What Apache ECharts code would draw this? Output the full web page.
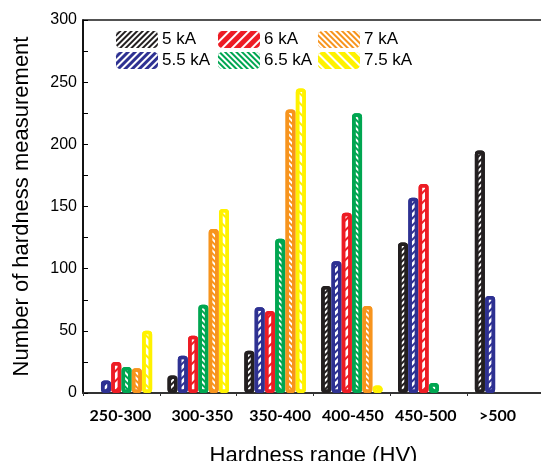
<!DOCTYPE html>
<html>
<head>
<meta charset="utf-8">
<script src="https://cdn.jsdelivr.net/npm/echarts@6/dist/echarts.min.js"></script>
<style>
  html, body { margin: 0; padding: 0; background: #fff; }
  #chart { width: 541px; height: 461px; }
</style>
</head>
<body>
<div id="chart"></div>
<script>
// Hardness ranges (HV) on the category axis
const categories = ['250-300', '300-350', '350-400', '400-450', '450-500', '>500'];

// Number of hardness measurements per welding current
const seriesNames = ['5 kA', '5.5 kA', '6 kA', '6.5 kA', '7 kA', '7.5 kA'];
const count5kA   = [0, 14, 34, 86, 121, 195];
const count5_5kA = [10, 30, 69, 106, 157, 78];
const count6kA   = [25, 46, 66, 145, 168, 0];
const count6_5kA = [21, 71, 124, 225, 8, 0];
const count7kA   = [20, 132, 228, 70, 0, 0];
const count7_5kA = [50, 148, 245, 6, 0, 0];

const yTicks = [0, 50, 100, 150, 200, 250, 300];

const seriesValues = [count5kA, count5_5kA, count6kA, count6_5kA, count7kA, count7_5kA];
const colors = ['#231f20', '#2e3192', '#ed1c24', '#00a651', '#f7941d', '#fff200'];

// hatch settings: [stripe thickness, gap, direction (-1 = "/", 1 = "\")]
const hatch = [
  [2, 2, -1],
  [2, 3, -1],
  [2, 5, -1],
  [2, 2, 1],
  [2, 2, 1],
  [2, 5, 1]
];

// small horizontal nudges of the category labels (px, + = right)
const labelShift = [-1, 4, 5, 1, -3, -8];

function decalFor(i, stripeColor) {
  return {
    symbol: 'rect',
    symbolSize: 1,
    color: stripeColor,
    dashArrayX: [1, 0],
    dashArrayY: [hatch[i][0], hatch[i][1]],
    rotation: hatch[i][2] * Math.PI / 4
  };
}

const series = seriesNames.map((name, i) => ({
  name: name,
  type: 'bar',
  barGap: '3%',
  barCategoryGap: '20%',
  data: seriesValues[i].map(v => (v === 0 ? '-' : v)),
  itemStyle: {
    color: '#ffffff',
    borderColor: colors[i],
    borderWidth: 3.5,
    borderRadius: 2,
    decal: decalFor(i, colors[i])
  },
  emphasis: { disabled: true }
}));

// legend columns of two entries each
const legendCols = [[0, 1], [2, 3], [4, 5]];
const legendLeft = [116, 218, 318];
const legends = legendCols.map((col, k) => ({
  orient: 'vertical',
  left: legendLeft[k],
  top: 31,
  padding: 0,
  itemWidth: 42,
  itemHeight: 17,
  itemGap: 4,
  icon: 'roundRect',
  selectedMode: false,
  textStyle: { fontFamily: 'Liberation Sans, Arial', fontSize: 17, color: '#000', padding: [0, 0, 0, -1] },
  data: col.map(i => ({
    name: seriesNames[i],
    itemStyle: {
      color: colors[i],
      borderWidth: 0,
      decal: decalFor(i, '#ffffff')
    }
  }))
}));

const labelRich = {};
labelShift.forEach((d, i) => {
  labelRich['c' + i] = {
    fontFamily: 'Lato', fontWeight: 'bold', fontSize: 16, color: '#000',
    padding: [0, d < 0 ? -2 * d : 0, 0, d > 0 ? 2 * d : 0]
  };
});

const chart = echarts.init(document.getElementById('chart'), null, { renderer: 'canvas' });
chart.setOption({
  animation: false,
  backgroundColor: '#fff',
  color: colors,
  grid: {
    left: 83, right: -3, top: 20, bottom: 68,
    show: true, borderColor: '#1a1a1a', borderWidth: 1.5,
    containLabel: false,
    outerBoundsMode: 'none'
  },
  legend: legends,
  xAxis: {
    type: 'category',
    data: categories,
    name: 'Hardness range (HV)',
    nameLocation: 'middle',
    nameGap: 52,
    nameTextStyle: { fontFamily: 'Liberation Sans, Arial', fontSize: 22, color: '#000' },
    axisLine: { lineStyle: { color: '#333', width: 2 } },
    axisTick: { show: true, length: 3, lineStyle: { color: '#333' } },
    axisLabel: {
      interval: 0, fontFamily: 'Lato', fontWeight: 'bold', fontSize: 16, color: '#000', margin: 15,
      formatter: (val, idx) => '{c' + idx + '|' + val + '}',
      rich: labelRich
    }
  },
  yAxis: {
    type: 'value',
    min: yTicks[0],
    max: yTicks[yTicks.length - 1],
    interval: yTicks[1] - yTicks[0],
    name: 'Number of hardness measurement',
    nameLocation: 'middle',
    nameGap: 50,
    nameTextStyle: { fontFamily: 'Liberation Sans, Arial', fontSize: 22, color: '#000' },
    axisLine: { show: true, lineStyle: { color: '#000', width: 1.5 } },
    axisTick: { show: true, inside: true, length: 5, lineStyle: { color: '#000' } },
    minorTick: { show: true, splitNumber: 2, length: 5, lineStyle: { color: '#000' } },
    splitLine: { show: false },
    axisLabel: { fontFamily: 'Liberation Sans, Arial', fontSize: 16, color: '#000', margin: 6 }
  },
  series: series
});
</script>
</body>
</html>
